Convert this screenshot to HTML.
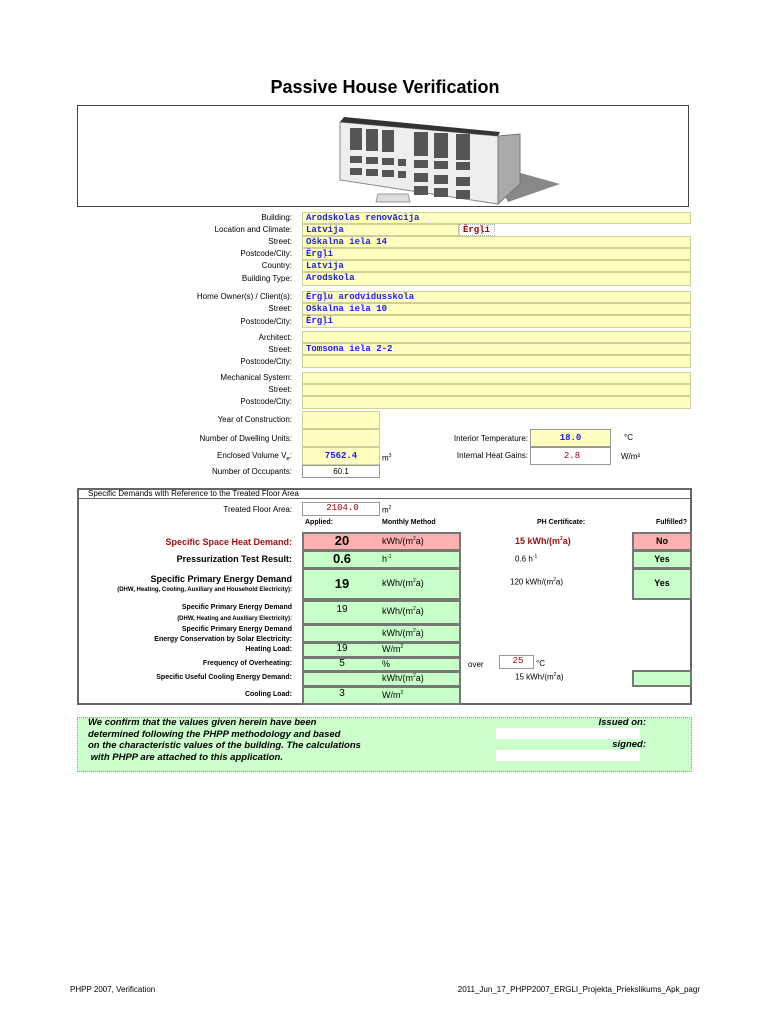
<!DOCTYPE html>
<html><head><meta charset="utf-8"><style>
body{margin:0;width:770px;height:1024px;background:#fff;position:relative;font-family:"Liberation Sans",sans-serif;color:#000;overflow:hidden}
div{position:absolute;box-sizing:border-box}
.l{font-size:8px;text-align:right;width:240px;left:52px;line-height:12px}
.y{background:#ffffc0;border:1px solid #cfcf9a;left:302px;width:389px;height:12px}
.v{font-family:"Liberation Mono",monospace;font-weight:bold;font-size:9px;color:#1a1aff;line-height:11px;padding-left:3px}
.g{background:#c8ffc8;border:2px solid #777;}
.p{background:#ffb0b0;border:2px solid #777;}
.c{text-align:center}
.b{font-weight:bold}
.s{font-size:8px}
</style></head><body>
<div style="left:0;width:770px;top:77px;text-align:center;font-size:18px;font-weight:bold">Passive House Verification</div>
<div style="left:77px;top:105px;width:612px;height:102px;border:1px solid #444"></div>
<svg style="position:absolute;left:338px;top:114px" width="222" height="92" viewBox="0 0 222 92">
<polygon points="150,50 222,70 170,88" fill="#888"/>
<polygon points="2,8 160,22 160,90 2,66" fill="#eee" stroke="#888"/>
<polygon points="2,8 160,22 162,18 6,3" fill="#333"/>
<polygon points="160,22 182,20 182,70 160,90" fill="#aaa" stroke="#777"/>
<g fill="#555">
<rect x="12" y="14" width="12" height="22"/><rect x="28" y="15" width="12" height="22"/><rect x="44" y="16" width="12" height="22"/><rect x="76" y="18" width="14" height="24"/><rect x="96" y="19" width="14" height="25"/><rect x="118" y="20" width="14" height="26"/>
<rect x="12" y="42" width="12" height="7"/><rect x="28" y="43" width="12" height="7"/><rect x="44" y="44" width="12" height="7"/><rect x="60" y="45" width="8" height="7"/><rect x="76" y="46" width="14" height="8"/><rect x="96" y="47" width="14" height="8"/><rect x="118" y="48" width="14" height="8"/>
<rect x="12" y="54" width="12" height="7"/><rect x="28" y="55" width="12" height="7"/><rect x="44" y="56" width="12" height="7"/><rect x="60" y="57" width="8" height="7"/><rect x="76" y="59" width="14" height="9"/><rect x="96" y="61" width="14" height="9"/><rect x="118" y="63" width="14" height="9"/>
<rect x="76" y="72" width="14" height="9"/><rect x="96" y="74" width="14" height="9"/><rect x="118" y="76" width="14" height="9"/>
</g>
<polygon points="40,80 70,80 72,88 38,88" fill="#ddd" stroke="#999"/>
</svg>

<div class="l" style="top:212px">Building:</div>
<div class="l" style="top:224px">Location and Climate:</div>
<div class="l" style="top:236px">Street:</div>
<div class="l" style="top:248px">Postcode/City:</div>
<div class="l" style="top:260px">Country:</div>
<div class="l" style="top:273px">Building Type:</div>
<div class="y v" style="top:212px">Arodskolas renovācija</div>
<div class="y v" style="top:224px;width:157px">Latvija</div>
<div class="v" style="top:224px;left:459px;width:36px;height:12px;border:1px dotted #aaa;color:#a00000;background:#fff">Ērgļi</div>
<div class="y v" style="top:236px">Oškalna iela 14</div>
<div class="y v" style="top:248px">Ērgļi</div>
<div class="y v" style="top:260px">Latvija</div>
<div class="y v" style="top:272px;height:14px">Arodskola</div>

<div class="l" style="top:291px">Home Owner(s) / Client(s):</div>
<div class="l" style="top:303px">Street:</div>
<div class="l" style="top:316px">Postcode/City:</div>
<div class="y v" style="top:291px">Ērgļu arodvidusskola</div>
<div class="y v" style="top:303px">Oškalna iela 10</div>
<div class="y v" style="top:315px;height:13px">Ērgļi</div>

<div class="l" style="top:332px">Architect:</div>
<div class="l" style="top:344px">Street:</div>
<div class="l" style="top:356px">Postcode/City:</div>
<div class="y v" style="top:331px">&nbsp;</div>
<div class="y v" style="top:343px">Tomsona iela 2-2</div>
<div class="y v" style="top:355px;height:13px">&nbsp;</div>

<div class="l" style="top:372px">Mechanical System:</div>
<div class="l" style="top:384px">Street:</div>
<div class="l" style="top:396px">Postcode/City:</div>
<div class="y" style="top:372px"></div>
<div class="y" style="top:384px"></div>
<div class="y" style="top:396px;height:13px"></div>

<div class="l" style="top:414px">Year of Construction:</div>
<div class="l" style="top:433px">Number of Dwelling Units:</div>
<div class="l" style="top:450px">Enclosed Volume V<sub style="font-size:6px">e</sub>:</div>
<div class="l" style="top:466px">Number of Occupants:</div>
<div class="y" style="top:411px;width:78px;height:18px"></div>
<div class="y" style="top:429px;width:78px;height:18px"></div>
<div class="y v c" style="top:447px;width:78px;height:18px;line-height:16px;padding:0">7562.4</div>
<div class="c s" style="top:465px;left:302px;width:78px;height:13px;border:1px solid #999;line-height:11px">60.1</div>
<div class="s" style="top:453px;left:382px">m<sup style="font-size:5px">3</sup></div>
<div class="l" style="top:433px;left:288px">Interior Temperature:</div>
<div class="l" style="top:450px;left:288px">Internal Heat Gains:</div>
<div class="y v c" style="top:429px;left:530px;width:81px;height:18px;line-height:16px;padding:0;border-color:#999">18.0</div>
<div class="v c" style="top:447px;left:530px;width:81px;height:18px;line-height:16px;color:#a00000;font-weight:normal;border:1px solid #999">2.8</div>
<div class="s" style="top:433px;left:624px">°C</div>
<div class="s" style="top:452px;left:621px">W/m²</div>

<div style="left:77px;top:488px;width:615px;height:217px;border:2px solid #666"></div>
<div style="left:79px;top:498px;width:611px;border-top:1px solid #666"></div>
<div class="s" style="left:88px;top:489px">Specific Demands with Reference to the Treated Floor Area</div>
<div class="l" style="top:504px">Treated Floor Area:</div>
<div class="v c" style="top:502px;left:302px;width:78px;height:14px;border:1px solid #999;color:#a00000;font-weight:normal">2104.0</div>
<div class="s" style="top:505px;left:382px">m<sup style="font-size:5px">2</sup></div>
<div class="b" style="font-size:7px;top:519px;left:305px">Applied:</div>
<div class="b" style="font-size:7px;top:519px;left:382px">Monthly Method</div>
<div class="b" style="font-size:7px;top:519px;left:537px">PH Certificate:</div>
<div class="b" style="font-size:7px;top:519px;left:656px">Fulfilled?</div>

<div class="l b" style="top:536px;font-size:9px;color:#a01010">Specific Space Heat Demand:</div>
<div class="p" style="top:532px;left:302px;width:159px;height:19px"></div>
<div class="b c" style="top:533px;left:302px;width:80px;font-size:13px">20</div>
<div style="top:536px;left:382px;font-size:9px">kWh/(m<sup style="font-size:5px">2</sup>a)</div>
<div class="b" style="top:536px;left:515px;font-size:9px;color:#a01010">15 kWh/(m<sup style="font-size:5px">2</sup>a)</div>
<div class="p b c" style="top:532px;left:632px;width:60px;height:19px;font-size:9px;line-height:15px">No</div>

<div class="l b" style="top:553px;font-size:9px">Pressurization Test Result:</div>
<div class="g" style="top:550px;left:302px;width:159px;height:19px"></div>
<div class="b c" style="top:551px;left:302px;width:80px;font-size:13px">0.6</div>
<div style="top:554px;left:382px;font-size:9px">h<sup style="font-size:5px">-1</sup></div>
<div style="top:554px;left:515px;font-size:8px">0.6 h<sup style="font-size:5px">-1</sup></div>
<div class="g b c" style="top:550px;left:632px;width:60px;height:19px;font-size:9px;line-height:15px">Yes</div>

<div class="l b" style="top:573px;font-size:9px">Specific Primary Energy Demand</div>
<div class="l b" style="top:584px;font-size:6px">(DHW, Heating, Cooling, Auxiliary and Household Electricity):</div>
<div class="g" style="top:568px;left:302px;width:159px;height:32px"></div>
<div class="b c" style="top:576px;left:302px;width:80px;font-size:13px">19</div>
<div style="top:578px;left:382px;font-size:9px">kWh/(m<sup style="font-size:5px">2</sup>a)</div>
<div style="top:577px;left:510px;font-size:8px">120 kWh/(m<sup style="font-size:5px">2</sup>a)</div>
<div class="g b c" style="top:568px;left:632px;width:60px;height:32px;font-size:9px;line-height:26px">Yes</div>

<div class="l b" style="top:602px;font-size:7px">Specific Primary Energy Demand</div>
<div class="l b" style="top:613px;font-size:6px">(DHW, Heating and Auxiliary Electricity):</div>
<div class="g" style="top:600px;left:302px;width:159px;height:25px"></div>
<div class="c" style="top:604px;left:302px;width:80px;font-size:10px">19</div>
<div style="top:606px;left:382px;font-size:9px">kWh/(m<sup style="font-size:5px">2</sup>a)</div>

<div class="l b" style="top:624px;font-size:7px">Specific Primary Energy Demand</div>
<div class="l b" style="top:634px;font-size:7px">Energy Conservation by Solar Electricity:</div>
<div class="g" style="top:624px;left:302px;width:159px;height:19px"></div>
<div style="top:628px;left:382px;font-size:9px">kWh/(m<sup style="font-size:5px">2</sup>a)</div>

<div class="l b" style="top:644px;font-size:7px">Heating Load:</div>
<div class="g" style="top:642px;left:302px;width:159px;height:16px"></div>
<div class="c" style="top:643px;left:302px;width:80px;font-size:10px">19</div>
<div style="top:644px;left:382px;font-size:9px">W/m<sup style="font-size:5px">2</sup></div>

<div class="l b" style="top:658px;font-size:7px">Frequency of Overheating:</div>
<div class="g" style="top:657px;left:302px;width:159px;height:15px"></div>
<div class="c" style="top:658px;left:302px;width:80px;font-size:10px">5</div>
<div style="top:659px;left:382px;font-size:9px">%</div>
<div class="s" style="top:660px;left:468px">over</div>
<div class="v c" style="top:655px;left:499px;width:35px;height:14px;border:1px solid #999;color:#a00000;font-weight:normal">25</div>
<div class="s" style="top:659px;left:536px">°C</div>

<div class="l b" style="top:672px;font-size:7px">Specific Useful Cooling Energy Demand:</div>
<div class="g" style="top:671px;left:302px;width:159px;height:16px"></div>
<div style="top:673px;left:382px;font-size:9px">kWh/(m<sup style="font-size:5px">2</sup>a)</div>
<div style="top:672px;left:515px;font-size:8px">15 kWh/(m<sup style="font-size:5px">2</sup>a)</div>
<div class="g" style="top:670px;left:632px;width:60px;height:17px"></div>

<div class="l b" style="top:689px;font-size:7px">Cooling Load:</div>
<div class="g" style="top:686px;left:302px;width:159px;height:19px"></div>
<div class="c" style="top:688px;left:302px;width:80px;font-size:10px">3</div>
<div style="top:690px;left:382px;font-size:9px">W/m<sup style="font-size:5px">2</sup></div>

<div style="left:77px;top:717px;width:615px;height:55px;background:#ccffcc;border:1px dotted #999"></div>
<div class="b" style="left:88px;top:717px;font-size:9.5px;font-style:italic;line-height:11.5px">We confirm that the values given herein have been<br>determined following the PHPP methodology and based<br>on the characteristic values of the building. The calculations<br>&nbsp;with PHPP are attached to this application.</div>
<div class="b" style="left:560px;width:86px;text-align:right;top:717px;font-size:9.5px;font-style:italic">Issued on:</div>
<div class="b" style="left:560px;width:86px;text-align:right;top:739px;font-size:9.5px;font-style:italic">signed:</div>
<div style="left:496px;top:728px;width:144px;height:11px;background:#fff"></div>
<div style="left:496px;top:750px;width:144px;height:11px;background:#fff"></div>

<div style="left:70px;top:985px;font-size:8px">PHPP 2007, Verification</div>
<div style="left:400px;width:300px;text-align:right;top:985px;font-size:8px">2011_Jun_17_PHPP2007_ERGLI_Projekta_Priekslikums_Apk_pagr</div>
</body></html>
